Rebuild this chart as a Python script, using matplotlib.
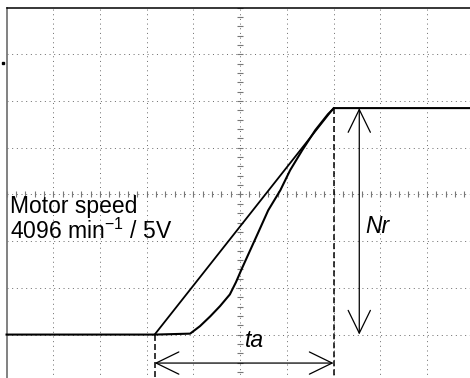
import numpy as np
import matplotlib
matplotlib.use("Agg")
import matplotlib.pyplot as plt

# time axis and motor speed trace, in screen divisions
trace_t = [0.0, 3.18, 3.93, 4.14, 4.36, 4.57, 4.78, 4.91, 5.04, 5.38, 5.60,
           5.86, 6.07, 6.33, 6.61, 6.88, 7.01, 9.92]
trace_v = [1.0, 1.0, 1.02, 1.18, 1.39, 1.61, 1.86, 2.12, 2.42, 3.17, 3.66,
           4.09, 4.52, 4.95, 5.38, 5.72, 5.85, 5.85]

# ideal linear ramp (start, end)
ramp_t = [3.17, 7.0]
ramp_v = [1.0, 5.85]

# annotation values
ta_level = 0.39
nr_pos = 7.55
speed_lines = ["Motor speed", "4096 min$^{\\mathregular{-1}}$ / 5V"]

n_xdiv = 10
n_ydiv = 8

plt.rcParams['font.family'] = ['Liberation Sans', 'DejaVu Sans']


def draw_graticule(ax: plt.Axes):
    """Grille en pointillés façon oscilloscope"""
    dots = (0, (1, 3.67))
    for i in range(1, n_xdiv):
        ax.vlines(i, -0.5, n_ydiv, colors='#707070', linewidth=0.72, linestyles=[dots])
    for j in range(1, n_ydiv):
        ax.hlines(j, 0, n_xdiv, colors='#707070', linewidth=0.72, linestyles=[dots])

    # petites graduations sur les axes centraux
    cy = np.arange(0, n_ydiv + 0.01, 0.2)
    cx = np.arange(0, n_xdiv + 0.01, 0.2)
    ax.plot(np.full(len(cy), n_xdiv / 2), cy, linestyle='none', marker='_',
            markersize=4, mew=0.8, color='#777777')
    ax.plot(cx, np.full(len(cx), n_ydiv / 2), linestyle='none', marker='|',
            markersize=4, mew=0.8, color='#777777')

    # bords
    ax.plot([0, 0], [-0.5, n_ydiv], color='#777777', linewidth=1.3)
    ax.plot([0, n_xdiv], [n_ydiv, n_ydiv], color='black', linewidth=1.1)


fig = plt.figure(figsize=(4.7, 3.78), dpi=100)
ax = fig.add_axes([0, 0, 1, 1])
ax.set_xlim(-0.14, 9.92)
ax.set_ylim(0.07, 8.165)
ax.axis('off')

draw_graticule(ax)

# trace et rampe idéale
ax.plot(trace_t, trace_v, color='black', linewidth=1.5, solid_joinstyle='round')
ax.plot(ramp_t, ramp_v, color='black', linewidth=1.3)

# lignes pointillées verticales au début et à la fin de la rampe
dash = (0, (3.9, 2.0))
ax.plot([ramp_t[0], ramp_t[0]], [ramp_v[0], -0.5], color='black', linewidth=1.1, linestyle=dash)
ax.plot([ramp_t[1], ramp_t[1]], [ramp_v[1], -0.5], color='black', linewidth=1.1, linestyle=dash)

arrow = dict(arrowstyle='<->,head_length=0.82,head_width=0.4', color='black',
             lw=0.9, mutation_scale=20, shrinkA=0, shrinkB=0)
ax.annotate('', xy=(ramp_t[0], ta_level), xytext=(ramp_t[1], ta_level), arrowprops=arrow)
ax.annotate('', xy=(nr_pos, ramp_v[1]), xytext=(nr_pos, ramp_v[0]), arrowprops=arrow)

ax.text(0.08, 3.61, speed_lines[0], fontsize=16.5, va='baseline', ha='left')
ax.text(0.08, 3.04, speed_lines[1], fontsize=16.5, va='baseline', ha='left')
ax.text(7.68, 3.17, "Nr", fontsize=16.5, style='italic', va='baseline')
ax.text(5.11, 0.74, "ta", fontsize=16.5, style='italic', va='baseline')

# repère de voie à gauche
ax.plot([-0.08], [6.81], marker='s', markersize=1.5, color='black', clip_on=False)

fig.savefig("out.png", dpi=100)
